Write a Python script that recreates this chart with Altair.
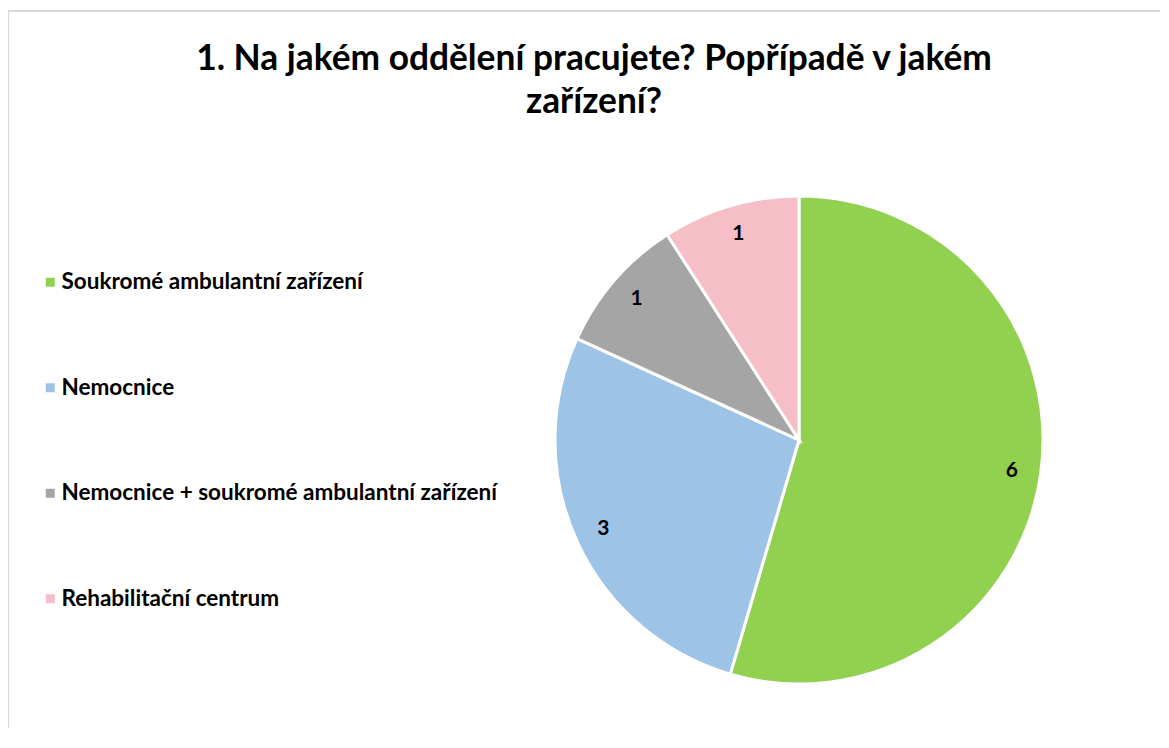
import altair as alt
import pandas as pd

categories = ["Soukromé ambulantní zařízení", "Nemocnice",
              "Nemocnice + soukromé ambulantní zařízení", "Rehabilitační centrum"]
values = [6, 3, 1, 1]
colors = ["#92d050", "#9dc3e6", "#a5a5a5", "#f6bec6"]
title_lines = ["1. Na jakém oddělení pracujete? Popřípadě v jakém", "zařízení?"]

df = pd.DataFrame({"cat": categories, "val": values, "ord": list(range(len(categories)))})

FONT = "Lato"
CX, CY, R = 791, 432, 244

color = alt.Color("cat:N", scale=alt.Scale(domain=categories, range=colors),
                  legend=alt.Legend(title=None, orient="none", legendX=31, legendY=263,
                                    symbolType="square", symbolSize=81, symbolStrokeWidth=0,
                                    labelFont=FONT, labelFontSize=22.5, labelFontWeight="bold",
                                    labelColor="#000000", labelOffset=0, rowPadding=82.5,
                                    labelLimit=700))

base = alt.Chart(df).encode(
    theta=alt.Theta("val:Q", stack=True),
    order=alt.Order("ord:Q"),
)

pie = base.mark_arc(outerRadius=R, stroke="white", strokeWidth=3).encode(
    color=color, x=alt.value(CX), y=alt.value(CY))

labels = base.mark_text(radius=215, font=FONT, fontSize=21, fontWeight="bold",
                        color="#000000").encode(
    text="val:Q", x=alt.value(CX), y=alt.value(CY))

bc = "#d9d9d9"
top = alt.Chart(df).mark_rule(color=bc, strokeWidth=2).encode(
    x=alt.value(-1), x2=alt.value(1160), y=alt.value(3))
left = alt.Chart(df).mark_rule(color=bc, strokeWidth=2).encode(
    x=alt.value(0), y=alt.value(3), y2=alt.value(740))

chart = alt.layer(top, left, pie, labels).properties(
    width=1152, height=720,
    autosize=alt.AutoSizeParams(type="none"),
    padding=0,
    title=alt.TitleParams(text=title_lines, anchor="middle", frame="group",
                          font=FONT, fontSize=35.3, fontWeight="bold", color="#000000",
                          lineHeight=43, baseline="top", offset=0, dy=112, dx=10),
).configure_view(stroke=None)

chart.save("out.html", embed_options={"renderer": "svg", "actions": False})
